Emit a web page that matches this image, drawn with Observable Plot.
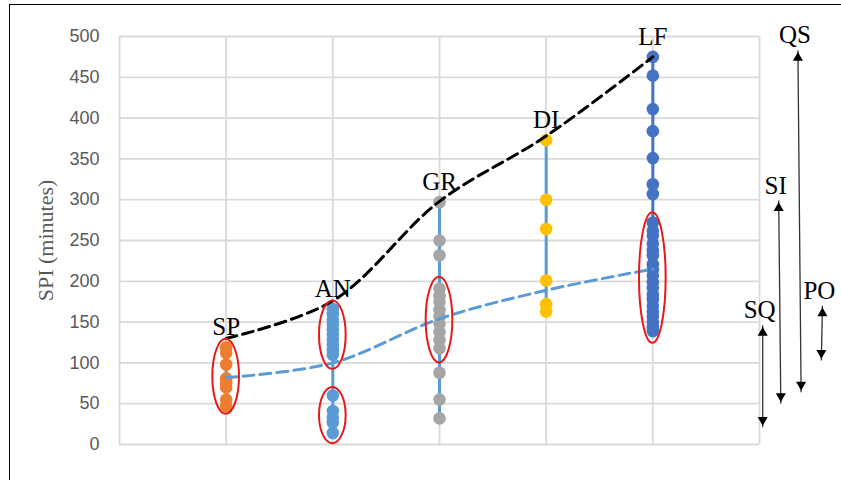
<!DOCTYPE html>
<html><head><meta charset="utf-8">
<script src="https://cdn.jsdelivr.net/npm/d3@7"></script>
<script src="https://cdn.jsdelivr.net/npm/@observablehq/plot@0.6"></script>
<style>
html,body{margin:0;padding:0;background:#fff;overflow:hidden;width:841px;height:480px}
#frame{position:absolute;left:9px;top:4px;width:2000px;height:2000px;border-left:1.5px solid #000;border-top:1.5px solid #000;}
#chart{position:absolute;left:0;top:0}
</style></head><body>
<div id="frame"></div><div id="chart"></div>
<script>
// ---- data ----
const categories = ["SP", "AN", "GR", "DI", "LF"];
const spValues = [119, 112, 98, 81, 75, 70, 55, 47];
const anValues = [166, 160, 153, 147, 141, 135, 128, 122, 116, 110, 60, 41, 33, 27, 14];
const grValues = [297, 250, 232, 191, 182, 175, 165, 157, 148, 138, 128, 118, 88, 55, 32];
const diValues = [373, 300, 264, 201, 172, 163];
const lfValues = [475, 452, 411, 384, 351, 319, 307, 272, 262, 256, 246, 238, 232, 221, 214, 207, 199, 192, 184, 178, 170, 163, 157, 150, 144, 139];
const dotColors = ["#ed7d31", "#5b9bd5", "#a5a5a5", "#ffc000", "#4472c4"];
const rangeColors = ["#5b9bd5", "#5b9bd5", "#5b9bd5", "#5b9bd5", "#4472c4"];
const upperLine = [130, 176, 298, 378, 475];   // black dashed
const meanLine = [82, 100, 154, 189, 215];     // blue dashed
const yTicks = [0, 50, 100, 150, 200, 250, 300, 350, 400, 450, 500];

// red ellipses (category, low value, high value)
const ellipseCats = ["SP", "AN", "AN", "GR", "LF"];
const ellipseLow = [37, 92, 1, 100, 124];
const ellipseHigh = [129, 176, 70, 205, 284];
const ellipseHalfWidth = 0.125;

// right-hand arrows
const arrowNames = ["QS", "SI", "SQ", "PO"];
const arrowTop = [483, 299, 146, 170];
const arrowBottom = [64, 50, 21, 103];
const arrowXTop = [6.36, 6.18, 6.03, 6.59];
const arrowXBottom = [6.39, 6.20, 6.03, 6.58];

// ---- tables ----
const seriesValues = [spValues, anValues, grValues, diValues, lfValues];
const catRows = categories.map((c, i) => ({
  cat: c, pos: i + 1,
  min: d3.min(seriesValues[i]), max: d3.max(seriesValues[i]),
  upper: upperLine[i], mean: meanLine[i]
}));
const arrows = arrowNames.map((n, i) => ({name: n, top: arrowTop[i], bottom: arrowBottom[i], xt: arrowXTop[i], xb: arrowXBottom[i]}));
const xGrid = d3.range(0, 7);

function ellipseMark(...args) {
  const s = args.find(a => a && typeof a.x === "function" && typeof a.y === "function");
  const g = d3.create("svg:g");
  ellipseCats.forEach((c, k) => {
    const pos = categories.indexOf(c) + 1;
    const cx = s.x(pos);
    const ya = s.y(ellipseLow[k]), yb = s.y(ellipseHigh[k]);
    const rx = s.x(pos + ellipseHalfWidth) - cx;
    g.append("ellipse")
      .attr("cx", cx).attr("cy", (ya + yb) / 2)
      .attr("rx", rx).attr("ry", Math.abs(ya - yb) / 2)
      .attr("fill", "none").attr("stroke", "#e8191a").attr("stroke-width", 2);
  });
  return g.node();
}

const serif = "Liberation Serif, Times New Roman, serif";
const marks = [
  Plot.ruleY(yTicks, {stroke: "#d9d9d9", strokeWidth: 1.8}),
  Plot.ruleX(xGrid, {y1: 0, y2: 500, stroke: "#d9d9d9", strokeWidth: 1.8}),
];
catRows.forEach((r, i) => {
  marks.push(Plot.ruleX([r], {x: "pos", y1: "min", y2: "max", stroke: rangeColors[i], strokeWidth: 3}));
});
catRows.forEach((r, i) => {
  marks.push(Plot.dot(seriesValues[i], {x: () => r.pos, y: d => d, r: 6.3, fill: dotColors[i], stroke: "none"}));
});
marks.push(
  Plot.line(catRows, {x: "pos", y: "upper", stroke: "#000", strokeWidth: 3, strokeDasharray: "11,6", curve: "catmull-rom"}),
  Plot.line(catRows, {x: "pos", y: "mean", stroke: "#5b9bd5", strokeWidth: 3, strokeDasharray: "11,6", curve: "catmull-rom"}),
  ellipseMark,
  Plot.text(catRows, {x: "pos", y: "max", text: "cat", dy: -20, fontSize: 25, fontFamily: serif, fill: "#000"}),
  Plot.link(arrows, {x1: "xt", y1: "top", x2: "xb", y2: "bottom", stroke: "#333", strokeWidth: 1.3}),
  Plot.dot(arrows, {x: "xt", y: "top", symbol: "triangle2", r: 4.8, fill: "#000", stroke: "none", dy: 7.5}),
  Plot.dot(arrows, {x: "xb", y: "bottom", symbol: "triangle2", rotate: 180, r: 4.8, fill: "#000", stroke: "none", dy: -7.5}),
  Plot.text(arrows, {x: "xt", y: "top", text: "name", dy: -15, dx: -3, fontSize: 25, fontFamily: serif, fill: "#000"}),
  Plot.text(["SPI (minutes)"], {text: d => d, frameAnchor: "left", textAnchor: "middle", rotate: -90, dx: -74, fontSize: 22, fontFamily: serif, fill: "#595959"})
);

const chart = Plot.plot({
  width: 841, height: 480,
  marginLeft: 119, marginRight: 82, marginTop: 36, marginBottom: 36,
  x: {domain: [0, 6], axis: null},
  y: {domain: [0, 500], ticks: yTicks, tickSize: 0, tickPadding: 20, label: null},
  style: {background: "transparent", color: "#595959", fontSize: "18px", fontFamily: "Liberation Sans, Arial, sans-serif", overflow: "visible"},
  marks
});
document.getElementById("chart").appendChild(chart);
</script>
</body></html>
